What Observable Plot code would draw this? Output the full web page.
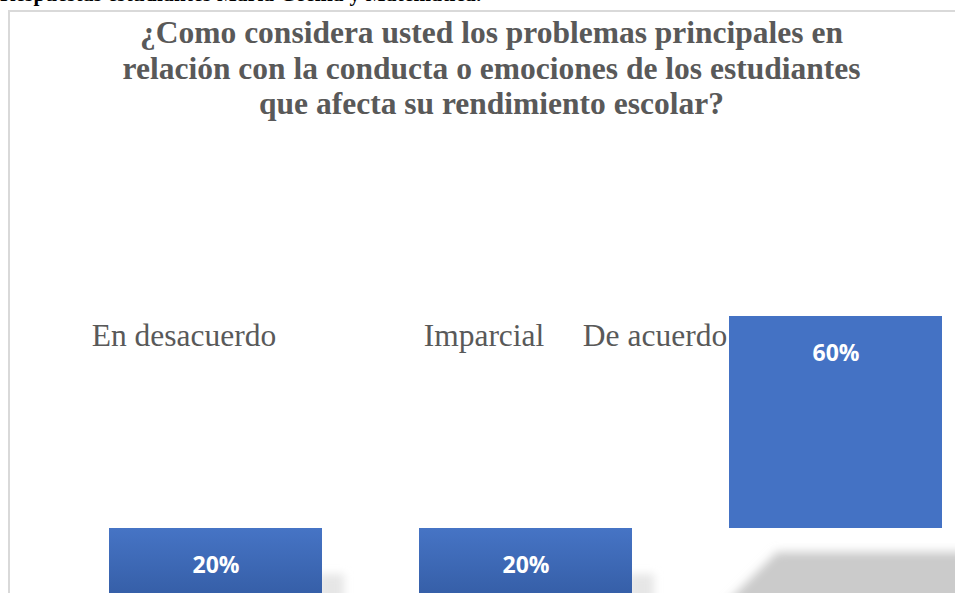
<!DOCTYPE html>
<html>
<head>
<meta charset="utf-8">
<script src="https://cdn.jsdelivr.net/npm/d3@7"></script>
<script src="https://cdn.jsdelivr.net/npm/@observablehq/plot@0.6"></script>
<style>
  html, body { margin: 0; padding: 0; background: #fff; overflow: hidden; }
  #page { position: relative; width: 955px; height: 593px; overflow: hidden; background: #fff; }
  #cut { position: absolute; left: 0; top: -18px; font: bold 21px/24px "Liberation Serif", "Times New Roman", serif; color: #000; white-space: nowrap; letter-spacing: 0.3px; }
  #frame { position: absolute; left: 8px; top: 10px; width: 1000px; height: 700px; border-left: 2px solid #d9d9d9; border-top: 2px solid #d9d9d9; }
  #title { position: absolute; left: 0; top: 15px; width: 955px; padding-left: 28px; box-sizing: border-box; text-align: center;
           font: bold 31.5px/35.5px "Liberation Serif", "Times New Roman", serif; color: #595959; z-index: 2; }
  #chart { position: absolute; left: 0; top: 0; }
</style>
</head>
<body>
<div id="page">
  <div id="cut">Respuestas estudiantes María Cecilia y Matemática.</div>
  <div id="frame"></div>
  <div id="chart"></div>
  <div id="title">¿Como considera usted los problemas principales en<br>relación con la conducta o emociones de los estudiantes<br>que afecta su rendimiento escolar?</div>
</div>
<script>
const categories = ["En desacuerdo", "Imparcial", "De acuerdo"];
const values = [20, 20, 60];
const barFrom = [0, 0, 20];           // the 60% bar floats in the original picture
const valueLabels = ["20%", "20%", "60%"];

const data = categories.map((c, i) => ({category: c, value: values[i], from: barFrom[i], label: valueLabels[i]}));

const serif = "'Liberation Serif', 'Times New Roman', serif";

const defs = () => {
  const d = d3.create("svg:defs");
  const g = d.append("linearGradient").attr("id", "barGrad").attr("x1", 0).attr("y1", 0).attr("x2", 0).attr("y2", 1);
  g.append("stop").attr("offset", "0%").attr("stop-color", "#4674C5");
  g.append("stop").attr("offset", "100%").attr("stop-color", "#2C5296");
  const f = d.append("filter").attr("id", "blur").attr("x", "-50%").attr("y", "-50%").attr("width", "200%").attr("height", "200%");
  f.append("feGaussianBlur").attr("stdDeviation", 5);
  const f2 = d.append("filter").attr("id", "blur2").attr("x", "-50%").attr("y", "-50%").attr("width", "200%").attr("height", "200%");
  f2.append("feGaussianBlur").attr("stdDeviation", 4);
  return d.node();
};

// soft drop shadows beneath the bars, derived from the scales
const shadows = (index, scales) => {
  const {x, y} = scales;
  const bw = x.bandwidth();
  const g = d3.create("svg:g");
  data.forEach((d, i) => {
    const x0 = x(d.category);
    if (d.from === 0) {
      g.append("rect").attr("x", x0 + bw - 4).attr("y", y(d.value) + 46).attr("width", 26).attr("height", 60)
        .attr("fill", "#e6e6e6").attr("filter", "url(#blur2)");
    } else {
      const top = y(d.from) + 24;
      g.append("path")
        .attr("d", `M${x0 - 22},${top + 70} L${x0 + 48},${top} L${x0 + bw + 60},${top} L${x0 + bw + 60},${top + 70} Z`)
        .attr("fill", "#cbcbcb").attr("filter", "url(#blur)");
    }
  });
  return g.node();
};

const base = data.filter(d => d.from === 0);
const floating = data.filter(d => d.from !== 0);

const chart = Plot.plot({
  width: 955,
  height: 660,
  marginTop: 316,
  marginBottom: 26,
  marginLeft: 109,
  marginRight: 13,
  x: {domain: categories, paddingInner: 0.313, paddingOuter: 0, axis: null},
  y: {domain: [0, 60], axis: null},
  style: {background: "transparent", overflow: "visible"},
  marks: [
    defs,
    shadows,
    Plot.barY(base, {x: "category", y1: "from", y2: "value", fill: "url(#barGrad)", inset: 0}),
    Plot.barY(floating, {x: "category", y1: "from", y2: "value", fill: "#4472C4", inset: 0}),
    Plot.text(data, {x: "category", y: "value", text: "label", dy: 37, fill: "white",
      fontFamily: "'Open Sans', sans-serif", fontWeight: "bold", fontSize: 23}),
    Plot.text([data[0]], {x: "category", text: "category", frameAnchor: "top", lineAnchor: "middle", dy: 19, dx: -32,
      fontFamily: serif, fontSize: 31.5, fill: "#595959"}),
    Plot.text([data[1]], {x: "category", text: "category", frameAnchor: "top", lineAnchor: "middle", dy: 19, dx: -42,
      fontFamily: serif, fontSize: 31.5, fill: "#595959"}),
    Plot.text([data[2]], {x: "category", text: "category", frameAnchor: "top", lineAnchor: "middle", dy: 19, dx: -181,
      fontFamily: serif, fontSize: 31.5, fill: "#595959"})
  ]
});
document.getElementById("chart").appendChild(chart);
</script>
</body>
</html>
